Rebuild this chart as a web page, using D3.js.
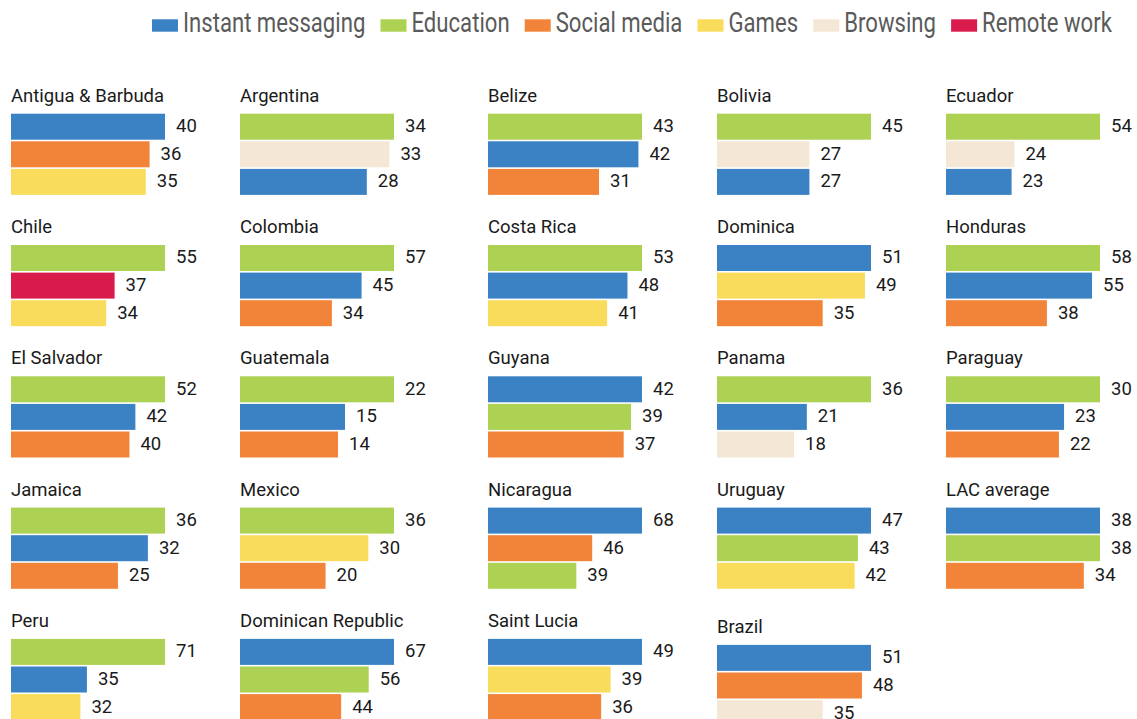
<!DOCTYPE html>
<html><head><meta charset="utf-8">
<script src="https://cdn.jsdelivr.net/npm/d3@7"></script>
<style>
html,body{margin:0;padding:0;background:#fff;}
svg{display:block;}
</style></head>
<body>
<script>
const categories = ["Instant messaging","Education","Social media","Games","Browsing","Remote work"];
const categoryColors = ["#3b82c4","#add152","#f2843a","#f9dc5c","#f4e7d5","#d81b4a"];
const countries = ["Antigua & Barbuda","Argentina","Belize","Bolivia","Ecuador",
  "Chile","Colombia","Costa Rica","Dominica","Honduras",
  "El Salvador","Guatemala","Guyana","Panama","Paraguay",
  "Jamaica","Mexico","Nicaragua","Uruguay","LAC average",
  "Peru","Dominican Republic","Saint Lucia","Brazil"];
const panelCategories = [
  ["Instant messaging","Social media","Games"],
  ["Education","Browsing","Instant messaging"],
  ["Education","Instant messaging","Social media"],
  ["Education","Browsing","Instant messaging"],
  ["Education","Browsing","Instant messaging"],
  ["Education","Remote work","Games"],
  ["Education","Instant messaging","Social media"],
  ["Education","Instant messaging","Games"],
  ["Instant messaging","Games","Social media"],
  ["Education","Instant messaging","Social media"],
  ["Education","Instant messaging","Social media"],
  ["Education","Instant messaging","Social media"],
  ["Instant messaging","Education","Social media"],
  ["Education","Instant messaging","Browsing"],
  ["Education","Instant messaging","Social media"],
  ["Education","Instant messaging","Social media"],
  ["Education","Games","Social media"],
  ["Instant messaging","Social media","Education"],
  ["Instant messaging","Education","Games"],
  ["Instant messaging","Education","Social media"],
  ["Education","Instant messaging","Games"],
  ["Instant messaging","Education","Social media"],
  ["Instant messaging","Games","Social media"],
  ["Instant messaging","Social media","Browsing"]
];
const panelValues = [
  [40,36,35],[34,33,28],[43,42,31],[45,27,27],[54,24,23],
  [55,37,34],[57,45,34],[53,48,41],[51,49,35],[58,55,38],
  [52,42,40],[22,15,14],[42,39,37],[36,21,18],[30,23,22],
  [36,32,25],[36,30,20],[68,46,39],[47,43,42],[38,38,34],
  [71,35,32],[67,56,44],[49,39,36],[51,48,35]
];

const W = 1137, H = 719;
const FONT = "Roboto, 'Liberation Sans', Arial, sans-serif";
const colX = [11, 240, 488, 717, 946];
const firstBarTop = 113.7, rowPitch = 131.3;
const barMax = 154;
const color = d3.scaleOrdinal().domain(categories).range(categoryColors);

const svg = d3.select("body").append("svg").attr("width", W).attr("height", H)
  .style("font-family", FONT);
svg.append("rect").attr("width", W).attr("height", H).attr("fill", "#fff");

// Legend: spans from legendLeft to legendRight, evenly spaced
const legendLeft = 152, legendRight = 1112;
const legendScale = 0.82;
const legend = svg.append("g").attr("class", "legend");
const items = categories.map(c => {
  const g = legend.append("g");
  const r = g.append("rect").attr("y", 19.3).attr("width", 26).attr("height", 12.4)
    .attr("fill", color(c));
  const t = g.append("text").attr("font-size", 27).attr("fill", "#5a5a5a").text(c);
  const w = t.node().getComputedTextLength() * legendScale;
  return {r, t, w};
});
const itemW = items.map(d => 26 + 5 + d.w);
const gap = (legendRight - legendLeft - d3.sum(itemW)) / (items.length - 1);
let lx = legendLeft;
items.forEach((d, i) => {
  d.r.attr("x", lx);
  d.t.attr("transform", `translate(${lx + 31},31.7) scale(${legendScale},1)`);
  lx += itemW[i] + gap;
});

// Panels
const band = d3.scaleBand().domain([0,1,2]).range([0, 81.2]).paddingInner(0.058);
countries.forEach((name, i) => {
  const col = i % 5, row = Math.floor(i / 5);
  const extra = name === "Brazil" ? 6 : 0;
  const top = firstBarTop + row * rowPitch + extra;
  const g = svg.append("g").attr("transform", `translate(${colX[col]},${top})`);
  const vals = panelValues[i], cats = panelCategories[i];
  const x = d3.scaleLinear().domain([0, d3.max(vals)]).range([0, barMax]);
  g.append("text").attr("x", 0).attr("y", -12).attr("font-size", 18.5)
    .attr("fill", "#1a1a1a").text(name);
  g.selectAll("rect.bar").data(vals).join("rect").attr("class", "bar")
    .attr("x", 0).attr("y", (d, j) => band(j))
    .attr("width", d => x(d)).attr("height", band.bandwidth())
    .attr("fill", (d, j) => color(cats[j]));
  g.selectAll("text.val").data(vals).join("text").attr("class", "val")
    .attr("x", d => x(d) + 11).attr("y", (d, j) => band(j) + band.bandwidth() / 2 + 5.5)
    .attr("font-size", 18.5).attr("fill", "#1a1a1a").text(d => d);
});
</script>
</body></html>
